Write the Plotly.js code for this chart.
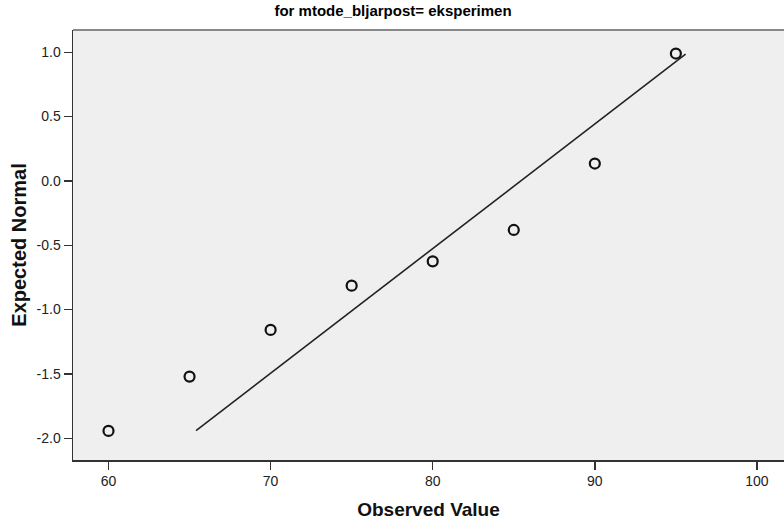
<!DOCTYPE html>
<html>
<head>
<meta charset="utf-8">
<script src="https://cdn.plot.ly/plotly-3.0.1.min.js"></script>
<style>html,body{margin:0;padding:0;background:#fff;overflow:hidden}</style>
</head>
<body>
<div id="chart" style="width:784px;height:520px"></div>
<script>
// Observed values and their expected normal scores
var observedValues = [60, 65, 70, 75, 80, 85, 90, 95];
var expectedNormal = [-1.943, -1.521, -1.158, -0.814, -0.625, -0.381, 0.135, 0.99];
// Reference normal line end points
var lineX = [65.4, 95.6];
var lineY = [-1.94, 0.985];
// Tick labels
var xTicks = [60, 70, 80, 90, 100];
var yTicks = [-2.0, -1.5, -1.0, -0.5, 0.0, 0.5, 1.0];
var yTickText = ["-2.0", "-1.5", "-1.0", "-0.5", "0.0", "0.5", "1.0"];
var titleText = "for mtode_bljarpost= eksperimen";
var xTitle = "Observed Value";
var yTitle = "Expected Normal";

var traces = [
  {
    x: lineX, y: lineY, type: "scatter", mode: "lines",
    line: {color: "#222222", width: 1.6},
    hoverinfo: "skip", showlegend: false
  },
  {
    x: observedValues, y: expectedNormal, type: "scatter", mode: "markers",
    marker: {symbol: "circle-open", size: 10, color: "#111111", line: {width: 2.2, color: "#111111"}},
    showlegend: false
  }
];

var layout = {
  width: 784, height: 520,
  margin: {l: 73, r: 0, t: 30, b: 60, pad: 0},
  paper_bgcolor: "#ffffff",
  plot_bgcolor: "#efefef",
  font: {family: "Arial, 'Liberation Sans', sans-serif", color: "#222"},
  title: {
    text: "<b>" + titleText + "</b>",
    font: {size: 15, color: "#000"},
    xref: "container", x: 393 / 784, xanchor: "center",
    y: 0.98, yanchor: "middle"
  },
  xaxis: {
    range: [57.81, 101.67],
    tickvals: xTicks, ticktext: xTicks.map(String),
    ticks: "outside", ticklen: 8, tickwidth: 1.5, tickcolor: "#333",
    showline: true, linecolor: "#333", linewidth: 1.5,
    showgrid: false, zeroline: false,
    tickfont: {size: 14, color: "#222"},
    title: {text: "<b>" + xTitle + "</b>", font: {size: 19, color: "#111"}, standoff: 14}
  },
  yaxis: {
    range: [-2.169, 1.173],
    tickvals: yTicks, ticktext: yTickText,
    ticks: "outside", ticklen: 8, tickwidth: 1.5, tickcolor: "#333",
    showline: true, linecolor: "#333", linewidth: 1.5,
    showgrid: false, zeroline: false,
    tickfont: {size: 14, color: "#222"},
    title: {text: "<b>" + yTitle + "</b>", font: {size: 20, color: "#111"}, standoff: 4}
  },
  shapes: [
    {type: "line", xref: "paper", yref: "paper", x0: 0, x1: 1, y0: 1, y1: 1,
     line: {color: "#888", width: 2}}
  ]
};

Plotly.newPlot("chart", traces, layout, {displayModeBar: false, staticPlot: true});
</script>
</body>
</html>
